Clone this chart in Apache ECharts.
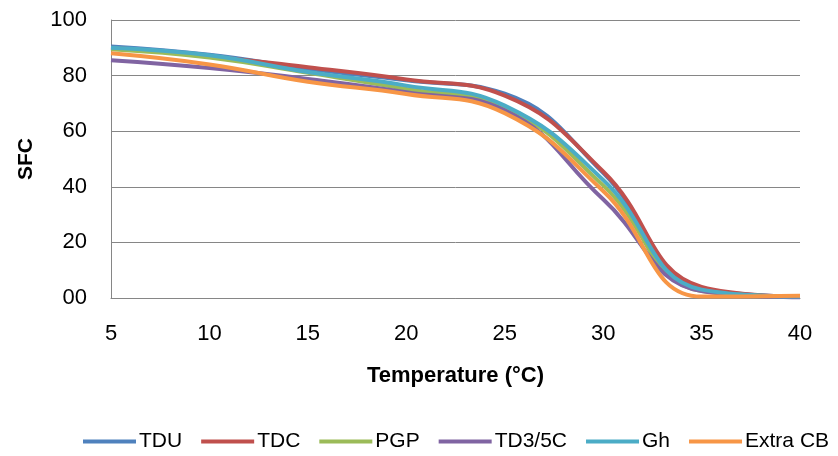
<!DOCTYPE html>
<html>
<head>
<meta charset="utf-8">
<script src="https://cdn.jsdelivr.net/npm/echarts@6/dist/echarts.min.js"></script>
<style>html,body{margin:0;padding:0;background:#fff}#c{width:838px;height:456px}</style>
</head>
<body>
<div id="c"></div>
<script>
const temperatures = [5, 10, 15, 20, 25, 30, 35, 40];
const seriesNames = ['TDU', 'TDC', 'PGP', 'TD3/5C', 'Gh', 'Extra CB'];
const tdu     = [90.5, 87.5, 82.5, 78.3, 73.5, 45.0, 3.5, 0.5];
const tdc     = [90.0, 87.0, 83.0, 78.6, 72.8, 45.5, 4.0, 0.5];
const pgp     = [89.5, 86.5, 81.0, 75.2, 68.5, 40.5, 2.5, 0.5];
const td35c   = [85.5, 82.7, 78.8, 74.0, 67.5, 35.5, 2.5, 0.3];
const gh      = [90.0, 87.3, 81.3, 76.4, 69.2, 42.5, 3.0, 0.5];
const extraCB = [88.0, 84.0, 77.8, 73.4, 66.5, 38.5, 0.5, 0.8];
const yTicks = ['00', '20', '40', '60', '80', '100'];

const allValues = [tdu, tdc, pgp, td35c, gh, extraCB];
const colors = ['#4F81BD', '#C0504D', '#9BBB59', '#8064A2', '#4BACC6', '#F79646'];
const font = "'Liberation Sans', Arial, sans-serif";

const chart = echarts.init(document.getElementById('c'), null, {renderer: 'canvas'});
chart.setOption({
  animation: false,
  backgroundColor: '#fff',
  color: colors,
  grid: {left: 111, right: 38, top: 20, bottom: 158, containLabel: false},
  xAxis: {
    type: 'value', min: 5, max: 40, interval: 5,
    name: 'Temperature (°C)', nameLocation: 'middle', nameGap: 67,
    nameTextStyle: {fontFamily: font, fontSize: 22, fontWeight: 'bold', color: '#000'},
    axisLine: {show: true, lineStyle: {color: '#868686', width: 1}},
    axisTick: {show: false},
    splitLine: {show: false},
    axisLabel: {fontFamily: font, fontSize: 22, color: '#000', margin: 25}
  },
  yAxis: {
    type: 'value', min: 0, max: 100, interval: 20,
    name: 'SFC', nameLocation: 'middle', nameGap: 74, nameRotate: 90,
    nameTextStyle: {fontFamily: font, fontSize: 21, fontWeight: 'bold', color: '#000'},
    axisLine: {show: true, lineStyle: {color: '#868686', width: 1}},
    axisTick: {show: false},
    splitLine: {show: true, lineStyle: {color: '#868686', width: 1}},
    axisLabel: {fontFamily: font, fontSize: 22, color: '#000', margin: 24,
      formatter: function (v) { return yTicks[Math.round(v / 20)]; }}
  },
  legend: {
    left: 78, top: 426,
    itemWidth: 53, itemHeight: 4, itemGap: 19,
    icon: 'rect',
    textStyle: {fontFamily: font, fontSize: 21, color: '#000', padding: [0, 0, 0, -2]},
    data: seriesNames
  },
  series: seriesNames.map(function (name, i) {
    return {
      name: name, type: 'line', smooth: 0.45, symbol: 'none',
      lineStyle: {width: 4, color: colors[i]},
      data: temperatures.map(function (t, j) { return [t, allValues[i][j]]; })
    };
  })
});
</script>
</body>
</html>
